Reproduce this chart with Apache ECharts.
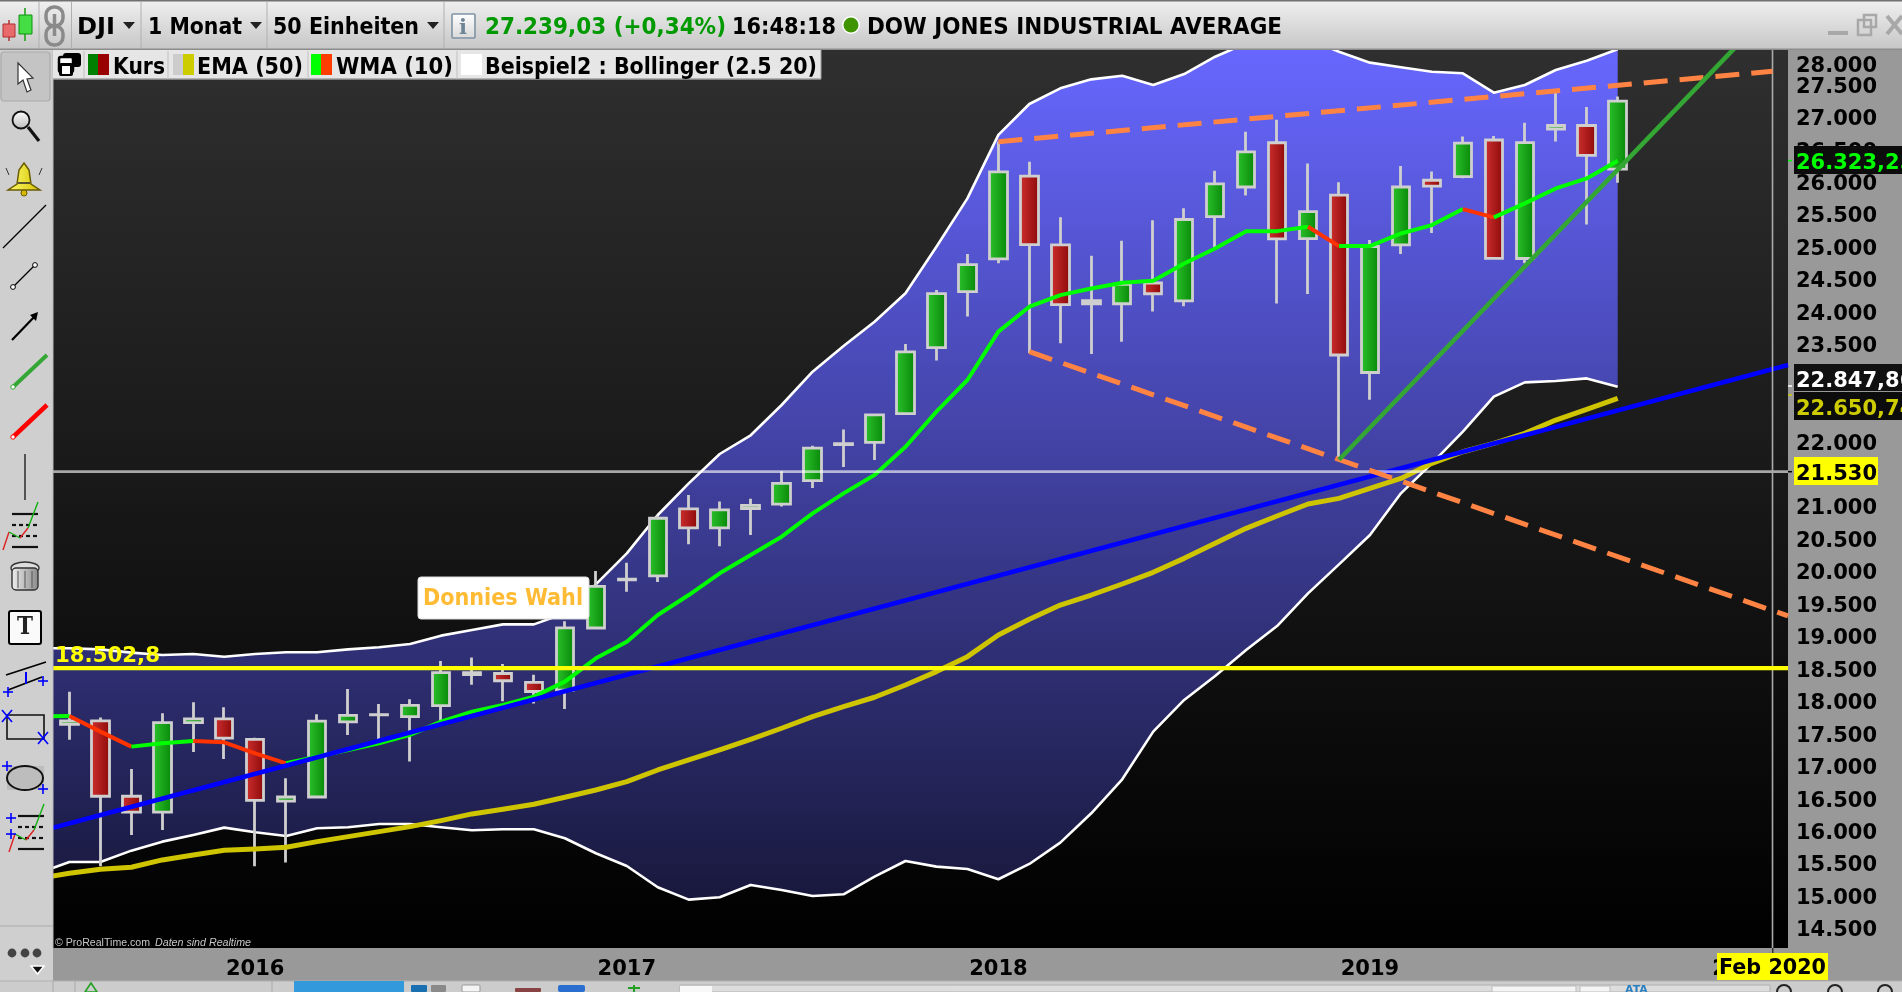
<!DOCTYPE html>
<html><head><meta charset="utf-8">
<style>html,body{margin:0;padding:0;background:#999}#c{width:1902px;height:992px}</style>
<script src="https://cdn.jsdelivr.net/npm/echarts@6/dist/echarts.min.js"></script>
</head><body><div id="c"></div>
<script>
// x index: Jul 2015 = 0, Jan 2016 = 6, Feb 2020 = 55
const yearTicks = [6, 18, 30, 42, 54];
const yearLabels = ['2016', '2017', '2018', '2019', '2020'];
const priceTicks = [14500,15000,15500,16000,16500,17000,17500,18000,18500,19000,19500,20000,20500,21000,21500,22000,22500,23000,23500,24000,24500,25000,25500,26000,26500,27000,27500];
// candles Jul 2015 .. Sep 2019
const opens  = [17638,17690,16528,16285,17664,17720,17405,16453,16517,17675,17784,17754,17924,18434,18420,18282,18162,19121,19872,19923,20957,20665,20962,21030,21392,21963,21982,22423,23442,24305,24809,26083,25024,24117,24117,24437,24161,25461,25916,26598,25121,25790,23058,25025,26020,26075,26640,24814,26810,26864,26190];
const closes = [17690,16528,16285,17664,17720,17425,16466,16517,17685,17774,17787,17930,18432,18401,18308,18142,19124,19763,19864,20812,20663,20941,21009,21350,21891,21948,22405,23377,24272,24719,26149,25029,24103,24163,24416,24271,25415,25965,26458,25116,25538,23327,24999,25916,25929,26593,24815,26600,26864,26403,27239];
const highs  = [18137,17740,16949,17807,17976,17899,17430,16805,17791,18182,17950,18022,18612,18668,18565,18400,19224,20000,20125,20851,21169,21070,21112,21535,21929,22179,22419,23497,24327,24884,26616,26306,25449,24858,25086,25402,25587,26167,26769,26952,26278,25988,25100,26241,26155,26696,26700,26907,27399,27150,27310];
const lows   = [17399,15450,15932,16009,17211,17103,15450,15506,16505,17473,17411,17062,17688,18247,17992,17959,17873,19132,19678,19831,20412,20379,20553,20994,21279,21600,21709,22416,23242,23920,24741,23360,23509,23344,23531,23997,24077,24965,25784,24122,24268,21713,22639,24883,25208,26050,24800,24740,26619,25339,25980];
// studies Jun 2015 .. Sep 2019 (first point lies just left of the plot)
const bollUpper = [18808,18808,18792,18741,18705,18720,18679,18720,18746,18746,18792,18823,18874,19003,19090,19177,19177,19347,19793,20271,20862,21350,21802,22090,22557,23070,23466,23840,24280,24996,25740,26720,27195,27437,27575,27631,27488,27657,27924,28130,28250,28200,28000,27832,27760,27693,27668,27370,27488,27719,27862,28038];
const bollLower = [15340,15516,15516,15690,15829,15932,16045,15973,15917,16035,16050,16101,16101,16050,16004,16019,16019,15881,15650,15454,15126,14936,14972,15162,15085,14992,15018,15290,15531,15444,15408,15249,15485,15814,16266,16790,17524,18012,18382,18782,19151,19655,20101,20553,21196,21658,22146,22685,22906,22926,22967,22839];
const ema50 = [15264,15341,15403,15434,15547,15624,15696,15716,15742,15829,15906,15983,16060,16153,16256,16327,16405,16512,16625,16753,16933,17087,17242,17406,17576,17756,17910,18054,18243,18449,18679,19013,19254,19475,19629,19799,19979,20194,20425,20656,20846,21031,21118,21272,21426,21658,21837,21966,22120,22325,22489,22659];
const wma10 = [17760,17766,17524,17293,17344,17380,17360,17190,17036,17139,17242,17344,17473,17678,17832,17935,18063,18295,18654,18910,19321,19629,19963,20245,20528,20887,21195,21478,21914,22454,22942,23687,24071,24250,24353,24440,24471,24738,24969,25236,25236,25303,25005,25005,25200,25329,25576,25447,25663,25894,26048,26320];
// drawn trend lines as [x index, price]
const blueTrend = [[-0.53,16044],[55.5,23173]];
const orangeUpper = [[30,26614],[55,27700]];
const orangeLower = [[31,23379],[55.5,19306]];
const greenTrend = [[41,21713],[54,28168]];
const supportLevel = 18502.8;
const greyLevel = 21530;
const cursorIndex = 55;

const X_MIN=-0.53, X_MAX=55.5, Y_MIN=14190, Y_MAX=28027;
const FF='"DejaVu Sans",sans-serif';
const lg=(x,y,x2,y2,c1,c2,g)=>new echarts.graphic.LinearGradient(x,y,x2,y2,[{offset:0,color:c1},{offset:1,color:c2}],g);
const idx=i=>i-1; // study array position -> x index
const pts=a=>a.map((v,i)=>[idx(i),v]);

const lineS=(name,data,color,width,z,extra)=>Object.assign({type:'line',name,data,symbol:'none',silent:true,animation:false,z,
  lineStyle:{color,width,cap:'butt',join:'round'}},extra||{});

const candleData=opens.map((o,i)=>[i,o,closes[i],lows[i],highs[i]]);
const bandFill=lg(0,50,0,948,'#6767ff','#141432',true);

const series=[
  {type:'custom',name:'band',silent:true,animation:false,z:1,clip:true,coordinateSystem:'cartesian2d',
   data:bollUpper.map((u,i)=>[idx(i),u,bollLower[i]]),encode:{x:0,y:[1,2]},
   renderItem:(params,api)=>{
     if(params.dataIndex!==0) return null;
     const up=bollUpper.map((v,i)=>api.coord([idx(i),v]));
     const lo=bollLower.map((v,i)=>api.coord([idx(i),v])).reverse();
     return {type:'polygon',shape:{points:up.concat(lo)},style:{fill:bandFill}};
   }},
  lineS('upper',pts(bollUpper),'#ffffff',2.6,2),
  lineS('lower',pts(bollLower),'#ffffff',2.6,2),
  {type:'candlestick',name:'Kurs',data:candleData,barWidth:18,clip:true,silent:true,animation:false,z:3,
    encode:{x:0,y:[1,2,3,4]},
    itemStyle:{color:lg(0,0,1,0,'#2cc42c','#078507'),color0:lg(0,0,1,0,'#d03030','#8a0808'),borderColor:'#cfcfcf',borderColor0:'#cfcfcf',borderWidth:2.8}},
];
// WMA: one line per rising / falling run
let runStart=0;
for(let i=1;i<=wma10.length;i++){
  const up=k=>wma10[k]>=wma10[k-1];
  if(i===wma10.length||(i>1&&up(i)!==up(i-1))){
    const rising=up(i-1);
    series.push(lineS('wma'+i,pts(wma10).slice(runStart,i),rising?'#00ff00':'#ff3300',4,4));
    runStart=i-1;
  }
}
series.push(
  lineS('ema',pts(ema50),'#cfc400',5,5),
  lineS('blue',blueTrend,'#0000ff',4.6,6),
  lineS('grey',[[X_MIN,greyLevel],[X_MAX,greyLevel]],'rgba(255,255,255,0.62)',2.6,6),
  lineS('cursor',[[cursorIndex,Y_MIN],[cursorIndex,Y_MAX]],'#aaaaaa',1.6,6),
  lineS('support',[[X_MIN,supportLevel],[X_MAX,supportLevel]],'#ffff00',4.4,7),
  lineS('orange1',orangeUpper,'#ff8444',5,8,{lineStyle:{color:'#ff8444',width:5,type:[24,12]}}),
  lineS('orange2',orangeLower,'#ff8444',5,8,{lineStyle:{color:'#ff8444',width:5,type:[24,12]}}),
  lineS('green',greenTrend,'#33a633',4.6,8)
);

// ---- application chrome ----
const G=[];
const measure=document.createElement('canvas').getContext('2d');
const rect=(x,y,w,h,fill,r,stroke,sw)=>G.push({type:'rect',silent:true,shape:{x,y,width:w,height:h,r:r||0},style:{fill:fill||'none',stroke:stroke||null,lineWidth:sw||1}});
const seg=(x1,y1,x2,y2,c,w)=>G.push({type:'line',silent:true,shape:{x1,y1,x2,y2},style:{stroke:c||'#000',lineWidth:w||1}});
const circ=(cx,cy,r,fill,stroke,sw)=>G.push({type:'circle',silent:true,shape:{cx,cy,r},style:{fill:fill||'none',stroke:stroke||null,lineWidth:sw||1}});
const poly=(points,fill,stroke,sw)=>G.push({type:'polygon',silent:true,shape:{points},style:{fill:fill||'none',stroke:stroke||null,lineWidth:sw||1}});
const txt=(s,x,y,fill,size,targetW,opt)=>{opt=opt||{};
  const fam=opt.family||FF, w=opt.weight||'bold', st=opt.fontStyle||'normal';
  measure.font=`${st} ${w} ${size}px ${fam}`;
  const sx=targetW?targetW/measure.measureText(s).width:1;
  G.push({type:'text',silent:true,x,y:y+(opt.dy==null?3:opt.dy),scaleX:sx,style:{text:s,fill,fontFamily:fam,fontSize:size,fontWeight:w,fontStyle:st,textAlign:'left',textVerticalAlign:'middle'}});
};
// top bar
rect(0,0,1902,50,lg(0,0,0,1,'#f0f0f0','#c6c6c6'));
rect(0,0,1902,1.5,'#707070'); rect(0,48.5,1902,1.5,'#8c8c8c');
[39,71.5,141,267,444].forEach(x=>seg(x,2,x,48,'#b0b0b0',1));
// candle icon
seg(9,20,9,41,'#b03030',1.5); rect(3,24,12,13,'#e86a6a',0,'#b03030',1);
seg(25,8,25,41,'#10a010',1.5); rect(19,15,13,19,'#44dd44',0,'#109010',1);
// link icon
rect(46,7,17,19,'none',8,'#8a8a8a',3.5); rect(46,26,17,19,'none',8,'#8a8a8a',3.5); seg(54.5,14,54.5,36,'#8a8a8a',3.5);
// combo arrows
[129,256,433].forEach(x=>poly([[x-6,22],[x+6,22],[x,29]],'#222'));
txt('DJI',77,25,'#000',23,38);
txt('1 Monat',148,25,'#000',23,94);
txt('50 Einheiten',273,25,'#000',23,146);
rect(452,14,23,24,lg(0,0,0,1,'#ffffff','#d8d8d8'),1,'#7d93a5',1.6);
txt('i',459,26,'#6f8596',21,8,{family:'"DejaVu Serif",serif'});
txt('27.239,03 (+0,34%)',485,25,'#009900',23,241);
txt('16:48:18',732,25,'#000',23,104);
circ(851,25,9,'#ffffff'); circ(851,25,7.5,'#3f9400');
txt('DOW JONES INDUSTRIAL AVERAGE',867,25,'#000',23,415);
rect(1828,31,20,4,'#a8a8a8');
rect(1858,20,13,15,'none',0,'#a8a8a8',2.5); rect(1864,15,12,12,'none',0,'#a8a8a8',2.5);
seg(1887,16,1902,34,'#a8a8a8',4); seg(1902,16,1887,34,'#a8a8a8',4);
// left toolbar
rect(0,50,53,898,'#cfcfcf');
rect(0,948,53,33,'#cfcfcf');
seg(53,50,53,948,'#b8b8b8',1);
rect(1,52,49,49,'#c4c4c4',3,'#aaaaaa',1.2);
poly([[18,63],[18,84],[23,80],[27,92],[31,90],[27,79],[33,78]],'#ffffff','#333',1.2);
circ(21,120,8.5,lg(0,0,0,1,'#ffffff','#bbbbbb'),'#111',1.8); seg(28,127,39,141,'#111',3.2);
poly([[24,163],[29,170],[31,184],[40,190],[8,190],[17,184],[19,170]],lg(0,0,1,0,'#ffff70','#d4c000'),'#6b5c00',1.5);
circ(24,193,3,'#d4b800','#6b5c00',1); seg(18,183,30,183,'#333',1.6);
seg(6,168,9,175,'#333',1); seg(42,168,39,175,'#333',1);
seg(3,248,46,205,'#000',1.2);
seg(13,287,35,265,'#000',1.2); circ(13,287,2.4,'#fff','#000',1); circ(35,265,2.4,'#fff','#000',1);
seg(12,340,36,315,'#000',2.2); poly([[38,312],[30,315],[36,321]],'#000');
seg(13,387,47,355,'#33a633',4); circ(13,387,2.2,'#fff','#33a633',1);
seg(13,437,47,405,'#ff0000',4.5); circ(13,437,2.2,'#fff','#ff0000',1);
seg(25,454,25,500,'#000',1.2);
const fib=(x,y)=>{[0,11,22,33].forEach((d,i)=>{ for(let k=0;k<26;k+=(i%3===0?26:7)) seg(x+k,y+d,x+k+(i%3===0?26:4),y+d,'#111',2.2); });
  seg(x-9,y+36,x-3,y+18,'#e02020',1.4); seg(x-3,y+18,x+8,y+24,'#10b010',1.4); seg(x+8,y+24,x+16,y+14,'#e02020',1.4); seg(x+16,y+14,x+26,y-12,'#10b010',1.4);};
fib(12,514);
G.push({type:'ellipse',silent:true,shape:{cx:25,cy:568,rx:14,ry:6},style:{fill:'#ddd',stroke:'#333',lineWidth:1.4}});
rect(12,568,26,22,lg(0,0,1,0,'#f0f0f0','#888'),4,'#333',1.4); [18,25,32].forEach(x=>seg(x,571,x,588,'#555',1));
rect(9,611,32,33,'#fafafa',2,'#000',2); txt('T',17,625,'#222',24,16,{family:'"DejaVu Serif",serif'});
seg(6,675,46,662,'#000',1.8); seg(8,690,42,677,'#000',1.8); seg(26,684,26,672,'#0000ff',2); [[8,692],[43,681]].forEach(p=>{seg(p[0]-5,p[1],p[0]+5,p[1],'#0000ff',1.6);seg(p[0],p[1]-5,p[0],p[1]+5,'#0000ff',1.6);});
rect(7,715,37,24,'none',0,'#111',1.6);
[[7,716],[43,738]].forEach(p=>{seg(p[0]-5,p[1]-6,p[0]+5,p[1]+6,'#0000ff',1.6);seg(p[0]+5,p[1]-6,p[0]-5,p[1]+6,'#0000ff',1.6);});
rect(7,766,37,24,'#bdbdbd'); G.push({type:'ellipse',silent:true,shape:{cx:25,cy:778,rx:18,ry:12},style:{fill:'none',stroke:'#111',lineWidth:2}});
[[7,766],[43,789]].forEach(p=>{seg(p[0]-5,p[1],p[0]+5,p[1],'#0000ff',1.6);seg(p[0],p[1]-5,p[0],p[1]+5,'#0000ff',1.6);});
fib(18,816);
[[11,818],[11,834]].forEach(p=>{seg(p[0]-5,p[1],p[0]+5,p[1],'#0000ff',1.6);seg(p[0],p[1]-5,p[0],p[1]+5,'#0000ff',1.6);});
seg(0,926,53,926,'#aaaaaa',1);
[12,25,37].forEach(x=>circ(x,953,4.4,'#444'));
poly([[31,966],[44,966],[37.5,974]],'#111','#fff',1.5);
// legend bar
rect(53,50,768,29,'#e6e6e6'); seg(53,79,821,79,'#a0a0a0',1.4); seg(821,50,821,79,'#a0a0a0',1);
[84,168,308,457].forEach(x=>seg(x,51,x,79,'#c0c0c0',1));
rect(63,53,18,14,'#000',3); rect(59,57,14,15,'#fff',2,'#000',2.5); rect(59,63,14,13,'#000',2);rect(62,66,8,8,'#fff');
rect(88,54,11,21,'#008000'); rect(98,54,11,21,'#990000');
rect(173,54,11,21,'#cccccc'); rect(183,54,11,21,'#cccc00');
rect(311,54,11,21,'#00ff00'); rect(321,54,11,21,'#ff3d00');
rect(461,54,21,21,'#ffffff');
txt('Kurs',113,65,'#000',23,52);
txt('EMA (50)',197,65,'#000',23,106);
txt('WMA (10)',336,65,'#000',23,117);
txt('Beispiel2 : Bollinger (2.5 20)',485,65,'#000',23,332);
// annotations inside the plot
rect(418,577,171,42,'#ffffff',3,'#dddddd',1);
txt('Donnies Wahl',423,596,'#ffbb33',23,160);
txt('18.502,8',55,654,'#ffff00',21,105);
txt('© ProRealTime.com',55,942,'#c8c8c8',11,95,{weight:'normal',family:'"Liberation Sans",sans-serif',dy:1});
txt('Daten sind Realtime',155,942,'#c8c8c8',11,96,{weight:'normal',fontStyle:'italic',family:'"Liberation Sans",sans-serif',dy:1});
// price tags on the axis
rect(1794,146,108,28,'#0c0c0c'); txt('26.323,25',1796,161,'#00ff00',21);
rect(1794,364,108,27,'#111'); txt('22.847,86',1796,379,'#ffffff',21);
rect(1794,392,108,28,'#0c0c0c'); txt('22.650,74',1796,407,'#cccc00',21);
rect(1794,457,84,28,'#ffff00'); txt('21.530',1796,472,'#000',21);
txt('28.000',1796,64,'#000',21);
seg(1788,160.6,1792,160.6,'#00ff00',1.5); seg(1788,386,1792,386,'#fff',1.5); seg(1788,395,1792,395,'#cccc00',1.5); seg(1788,471.7,1792,471.7,'#000',1.5);
// date tag
seg(1772.8,948,1772.8,953,'#000',1);
rect(1717,953,111,27,'#ffff00'); txt('Feb 2020',1719,966,'#000',21,107);
// bottom bar
rect(0,981,1902,11,'#cccccc'); seg(0,981,1902,981,'#b0b0b0',1);
rect(294,981,110,11,'#3399dd');
seg(53,981,53,992,'#aaa',1); seg(75,981,75,992,'#aaa',1); seg(272,981,272,992,'#aaa',1);
poly([[85,992],[91,983],[97,992]],'none','#22a022',1.6);
rect(411,985,16,7,'#1a6fb0',1); rect(431,985,15,7,'#8a8a8a',1); rect(462,985,18,7,'#f4f4f4',1,'#999',1);
rect(515,988,26,4,'#884444',1); rect(558,985,27,7,'#2a6fd0',2);
seg(634,985,634,992,'#22a022',2); seg(628,988,640,988,'#22a022',2);
rect(680,985,1090,7,'#dddddd',0,'#b0b0b0',1); rect(680,986,32,6,'#f8f8f8');
rect(1492,986,84,6,'#f4f4f4',0,'#bbb',1); rect(1580,986,30,6,'#f4f4f4',0,'#bbb',1);
txt('ATA',1625,990,'#2a7fc0',11,null,{dy:0});
[1784,1835,1885].forEach(x=>circ(x,992,7,'none','#222',2));
// keep the chrome above the plot and in drawing order
G.forEach((e,i)=>{e.z=100;e.zlevel=1;e.z2=i;});

const chart=echarts.init(document.getElementById('c'),null,{renderer:'canvas',width:1902,height:992});
chart.setOption({
  animation:false,
  backgroundColor:'#999999',
  grid:{show:true,left:53,right:114,top:50,bottom:44,borderWidth:0,backgroundColor:lg(0,0,0,1,'#2f2f2f','#000000')},
  xAxis:{type:'value',min:X_MIN,max:X_MAX,splitLine:{show:false},axisLine:{show:false},axisTick:{show:false},
    axisLabel:{customValues:yearTicks,margin:11,color:'#000',fontFamily:FF,fontWeight:'bold',fontSize:21,
      formatter:v=>yearLabels[yearTicks.indexOf(v)]||''}},
  yAxis:{type:'value',position:'right',min:Y_MIN,max:Y_MAX,splitLine:{show:false},axisLine:{show:false},axisTick:{show:false},
    axisLabel:{customValues:priceTicks,margin:8,color:'#000',align:'left',
      rich:{p:{fontFamily:FF,fontWeight:'bold',fontSize:21,color:'#000',padding:[6,0,0,0]}},
      formatter:v=>'{p|'+String(v).replace(/(\d+)(\d{3})$/,'$1.$2')+'}'}},
  series,
  graphic:{zlevel:1,z:100,elements:G}
});
</script></body></html>
